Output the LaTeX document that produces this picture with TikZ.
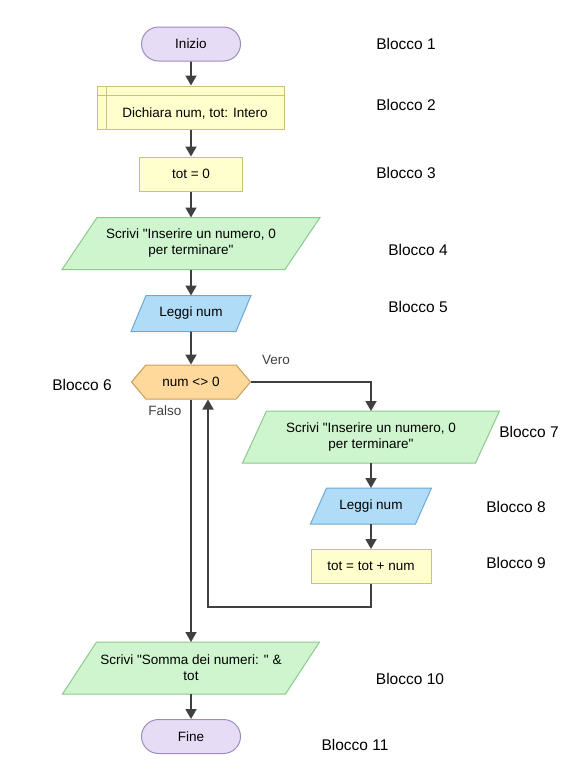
\documentclass[tikz,border=0pt]{standalone}
\usepackage{fontspec}
\setmainfont{Liberation Sans}[Ligatures=TeXOff]
\usepackage{xcolor}
\usepackage{tikz}
\usetikzlibrary{positioning,arrows.meta,calc,shapes.misc,shapes.symbols,backgrounds}
\definecolor{ink}{HTML}{404040}
\definecolor{lilac}{HTML}{E6DCF6}
\definecolor{lilacline}{HTML}{9C8CC0}
\definecolor{cream}{HTML}{FFFFCE}
\definecolor{creamline}{HTML}{C8C27C}
\definecolor{mint}{HTML}{CFF5CF}
\definecolor{mintline}{HTML}{8CC98C}
\definecolor{sky}{HTML}{B0DCF8}
\definecolor{skyline}{HTML}{6CA8D6}
\definecolor{peach}{HTML}{FFD99C}
\definecolor{peachline}{HTML}{C99E58}
\tikzset{
  box/.style={line width=1pt,align=center,font=\fontsize{13.5}{16}\selectfont,inner sep=2pt},
  terminal/.style={box,draw,rounded rectangle,draw=lilacline,fill=lilac,minimum width=103pt,minimum height=34pt},
  process/.style={box,draw,rectangle,draw=creamline,fill=cream,minimum height=34pt},
  io/.style={box,rectangle,minimum height=51pt},
  readbox/.style={box,rectangle,minimum height=35pt,minimum width=104pt},
  iofill/.style={draw=mintline,fill=mint,line width=1pt},
  readfill/.style={draw=skyline,fill=sky,line width=1pt},
  decision/.style={box,draw,signal,signal to=east and west,signal pointer angle=100,draw=peachline,fill=peach,
    minimum height=34pt,minimum width=119pt},
  arrow/.style={-{Triangle[length=10pt,width=11pt]},draw=ink,line width=1.8pt},
  tag/.style={font=\fontsize{15.5}{18}\selectfont,text=black},
  edgelabel/.style={font=\fontsize{13.5}{16}\selectfont,text=ink}
}
% slanted outline behind a node: name, half slant, colours
\newcommand{\slantbox}[3]{%
  \begin{scope}[on background layer]
    \draw[#3] ([xshift=#2]#1.north west) -- ([xshift=#2]#1.north east)
      -- ([xshift=-#2]#1.south east) -- ([xshift=-#2]#1.south west) -- cycle;
  \end{scope}}
\begin{document}
\begin{tikzpicture}[x=1pt,y=-1pt,node distance=25pt]
  \useasboundingbox (0,0) rectangle (582,772);
  % main column
  \node[terminal] (start) at (191,44) {Inizio};
  \node[process,below=24pt of start,minimum width=187pt,minimum height=43pt,text height=22pt,text depth=3pt] (decl) {\hspace{8pt}Dichiara num, tot: Intero};
  \draw[creamline,line width=1pt] ([xshift=9pt]decl.north west) -- ([xshift=9pt]decl.south west);
  \draw[creamline,line width=1pt] ([yshift=-10pt]decl.north west) -- ([yshift=-10pt]decl.north east);
  \node[process,below=27pt of decl,minimum width=103pt] (init) {tot = 0};
  \node[io,below=26pt of init,minimum width=222pt] (ask) {Scrivi "Inserire un numero, 0\\per terminare"};
  \slantbox{ask}{17.5pt}{iofill}
  \node[readbox,below=26pt of ask] (read) {Leggi num};
  \slantbox{read}{7.5pt}{readfill}
  \node[decision,below=33pt of read] (cond) {num <> 0};
  % loop body
  \node[io,minimum width=232pt] (ask2) at (371,437) {Scrivi "Inserire un numero, 0\\per terminare"};
  \slantbox{ask2}{12pt}{iofill}
  \node[readbox,below=of ask2] (read2) {Leggi num};
  \slantbox{read2}{8pt}{readfill}
  \node[process,below=of read2,minimum width=120pt] (sum) {tot = tot + num};
  \coordinate (back) at (208,607);
  % end
  \node[io,minimum width=222pt] (out) at (191,668) {Scrivi "Somma dei numeri: " \&\\tot};
  \slantbox{out}{17pt}{iofill}
  \node[terminal,below=of out] (stop) {Fine};
  % connectors
  \draw[arrow] (start) -- (decl);
  \draw[arrow] (decl) -- (init);
  \draw[arrow] (init) -- (ask);
  \draw[arrow] (ask) -- (read);
  \draw[arrow] (read) -- (cond);
  \draw[arrow] (cond.east) -| (ask2.north);
  \draw[arrow] (ask2) -- (read2);
  \draw[arrow] (read2) -- (sum);
  \draw[arrow] (sum.south) |- (back) -- (back |- cond.south);
  \draw[arrow] (cond.south) -- (out.north);
  \draw[arrow] (out) -- (stop);
  \node[edgelabel] (vero) at (276,360) {Vero};
  \node[edgelabel] (falso) at (165,411) {Falso};
  % block tags
  \node[tag] (t1) at (406,44) {Blocco 1};
  \node[tag] (t2) at (406,105) {Blocco 2};
  \node[tag] (t3) at (406,173) {Blocco 3};
  \node[tag] (t4) at (418,250) {Blocco 4};
  \node[tag] (t5) at (418,307) {Blocco 5};
  \node[tag] (t6) at (82,385) {Blocco 6};
  \node[tag] (t7) at (529,432) {Blocco 7};
  \node[tag] (t8) at (516,507) {Blocco 8};
  \node[tag] (t9) at (516,563) {Blocco 9};
  \node[tag] (t10) at (410,679) {Blocco 10};
  \node[tag] (t11) at (355,745) {Blocco 11};
\end{tikzpicture}
\end{document}
